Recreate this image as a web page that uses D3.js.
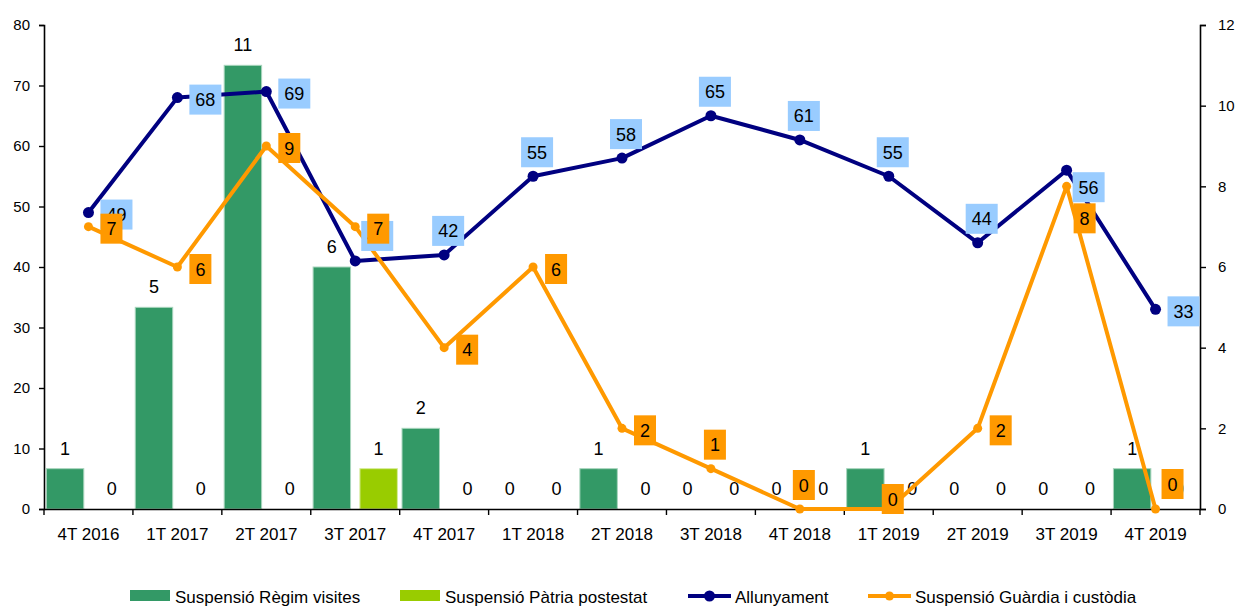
<!DOCTYPE html>
<html>
<head>
<meta charset="utf-8">
<script src="https://cdn.jsdelivr.net/npm/d3@7"></script>
<style>
    body { margin: 0; background: #fff; }
    svg { display: block; font-family: "Liberation Sans", Arial, sans-serif; }
</style>
</head>
<body>
<svg id="chart" width="1242" height="608"></svg>
<script>
const categories = ['4T 2016', '1T 2017', '2T 2017', '3T 2017', '4T 2017', '1T 2018', '2T 2018',
    '3T 2018', '4T 2018', '1T 2019', '2T 2019', '3T 2019', '4T 2019'];

// bars, right axis
const regimVisites = [1, 5, 11, 6, 2, 0, 1, 0, 0, 1, 0, 0, 1];
const patriaPotestat = [0, 0, 0, 1, 0, 0, 0, 0, 0, 0, 0, 0, 0];
// lines
const allunyament = [49, 68, 69, 41, 42, 55, 58, 65, 61, 55, 44, 56, 33];      // left axis
const guardiaCustodia = [7, 6, 9, 7, 4, 6, 2, 1, 0, 0, 2, 8, 0];               // right axis

const leftTicks = [0, 10, 20, 30, 40, 50, 60, 70, 80];
const rightTicks = [0, 2, 4, 6, 8, 10, 12];

const seriesNames = ['Suspensió Règim visites', 'Suspensió Pàtria postestat', 'Allunyament', 'Suspensió Guàrdia i custòdia'];

// where each data label box sits relative to its point (as in the original sheet)
const allunyamentLabelPos = ['r', 'r', 'r', 'ra', 'a', 'a', 'a', 'a', 'a', 'a', 'a', 'rb', 'r'];
const guardiaLabelPos = ['r', 'r', 'r', 'r', 'r', 'r', 'r', 'a', 'a', 'c', 'r', 'b', 'ra'];

const colors = {
    regim: '#339966',
    patria: '#99cc00',
    allunyament: '#000080',
    allunyamentBox: '#99ccff',
    guardia: '#ff9900'
};

const svg = d3.select('#chart');
const plot = { left: 44, right: 1200, top: 25, bottom: 509 };

const x = d3.scaleBand().domain(categories).range([plot.left, plot.right]);
const sub = d3.scaleBand().domain(['regim', 'patria']).range([0, x.bandwidth()])
    .paddingInner(0.2).paddingOuter(0.05);
const yL = d3.scaleLinear().domain([0, 80]).range([plot.bottom, plot.top]);
const yR = d3.scaleLinear().domain([0, 12]).range([plot.bottom, plot.top]);
const cx = c => x(c) + x.bandwidth() / 2;

// axes
const axL = svg.append('g')
    .attr('transform', `translate(${plot.left},0)`)
    .call(d3.axisLeft(yL).tickValues(leftTicks).tickSize(5).tickPadding(9));
const axR = svg.append('g')
    .attr('transform', `translate(${plot.right},0)`)
    .call(d3.axisRight(yR).tickValues(rightTicks).tickSize(6).tickPadding(12));
[axL, axR].forEach(a => {
    a.select('.domain').attr('stroke', '#000').attr('stroke-width', 1.6);
    a.selectAll('.tick line').attr('stroke', '#000').attr('stroke-width', 1.4);
    a.selectAll('.tick text').attr('font-size', 15).attr('fill', '#000');
});

// bars
const barData = [];
categories.forEach((c, i) => {
    barData.push({ cat: c, key: 'regim', v: regimVisites[i] });
    barData.push({ cat: c, key: 'patria', v: patriaPotestat[i] });
});

svg.append('g').selectAll('rect')
    .data(barData.filter(d => d.v > 0))
    .enter().append('rect')
    .attr('x', d => x(d.cat) + sub(d.key))
    .attr('width', sub.bandwidth())
    .attr('y', d => yR(d.v))
    .attr('height', d => yR(0) - yR(d.v))
    .attr('fill', d => colors[d.key])
    .attr('stroke', d => d.key === 'regim' ? '#a8d5bd' : '#d6eb99')
    .attr('stroke-width', 1);

svg.append('g').selectAll('text')
    .data(barData)
    .enter().append('text')
    .attr('x', d => x(d.cat) + sub(d.key) + sub.bandwidth() / 2)
    .attr('y', d => yR(d.v) - 14)
    .attr('text-anchor', 'middle')
    .attr('font-size', 18)
    .text(d => d.v);

// x axis line + boundary ticks + labels
const axB = svg.append('g')
    .attr('transform', `translate(0,${plot.bottom})`)
    .call(d3.axisBottom(x).tickSize(0).tickPadding(19));
axB.select('.domain').attr('stroke', '#000').attr('stroke-width', 1.6);
axB.selectAll('.tick text').attr('font-size', 17).attr('fill', '#000');
axB.selectAll('.bound')
    .data(categories.concat([null]))
    .enter().append('line')
    .attr('class', 'bound')
    .attr('x1', d => d === null ? plot.right : x(d))
    .attr('x2', d => d === null ? plot.right : x(d))
    .attr('y1', 0).attr('y2', 6)
    .attr('stroke', '#000').attr('stroke-width', 1.4);

// lines
function drawLine(values, scale, color, width, r) {
    const pts = values.map((v, i) => [cx(categories[i]), scale(v)]);
    svg.append('path')
        .attr('d', d3.line()(pts))
        .attr('fill', 'none')
        .attr('stroke', color)
        .attr('stroke-width', width)
        .attr('stroke-linejoin', 'round');
    svg.append('g').selectAll('circle')
        .data(pts)
        .enter().append('circle')
        .attr('cx', d => d[0]).attr('cy', d => d[1])
        .attr('r', r)
        .attr('fill', color);
    return pts;
}

const blueLine = drawLine(allunyament, yL, colors.allunyament, 4, 5.5);
const orangeLine = drawLine(guardiaCustodia, yR, colors.guardia, 4, 4.5);

// box labels
function boxCenter(p, pos, w, h) {
    const [px, py] = p;
    switch (pos) {
        case 'r': return [px + 12 + w / 2, py + 2];
        case 'ra': return [px + 6 + w / 2, py - 25];
        case 'a': return [px + 4, py - 9 - h / 2];
        case 'rb': return [px + 6 + w / 2, py + 2 + h / 2];
        case 'b': return [px + 7 + w / 2, py + 17 + h / 2];
        case 'c': return [px + 4, py - 10];
    }
    return [px, py];
}

function drawBoxLabels(values, pts, positions, fill) {
    const g = svg.append('g');
    values.forEach((v, i) => {
        const txt = String(v);
        const w = txt.length * 10 + 12, h = 30;
        const [bx, by] = boxCenter(pts[i], positions[i], w, h);
        g.append('rect')
            .attr('x', bx - w / 2).attr('y', by - h / 2)
            .attr('width', w).attr('height', h)
            .attr('fill', fill);
        g.append('text')
            .attr('x', bx).attr('y', by + 6.5)
            .attr('text-anchor', 'middle')
            .attr('font-size', 18)
            .text(txt);
    });
}

drawBoxLabels(allunyament, blueLine, allunyamentLabelPos, colors.allunyamentBox);
drawBoxLabels(guardiaCustodia, orangeLine, guardiaLabelPos, colors.guardia);

// legend
const legend = svg.append('g').attr('font-size', 17);
const legendItems = [
    { name: seriesNames[0], x: 130, type: 'bar', color: colors.regim },
    { name: seriesNames[1], x: 400, type: 'bar', color: colors.patria },
    { name: seriesNames[2], x: 688, type: 'line', color: colors.allunyament, r: 5.5 },
    { name: seriesNames[3], x: 868, type: 'line', color: colors.guardia, r: 4.5 }
];
legendItems.forEach(d => {
    if (d.type === 'bar') {
        legend.append('rect')
            .attr('x', d.x).attr('y', 590).attr('width', 40).attr('height', 11)
            .attr('fill', d.color);
    } else {
        legend.append('line')
            .attr('x1', d.x).attr('x2', d.x + 43).attr('y1', 596).attr('y2', 596)
            .attr('stroke', d.color).attr('stroke-width', 4);
        legend.append('circle')
            .attr('cx', d.x + 21.5).attr('cy', 596).attr('r', d.r)
            .attr('fill', d.color);
    }
    legend.append('text')
        .attr('x', d.x + (d.type === 'bar' ? 45 : 47))
        .attr('y', 603)
        .text(d.name);
});
</script>
</body>
</html>
